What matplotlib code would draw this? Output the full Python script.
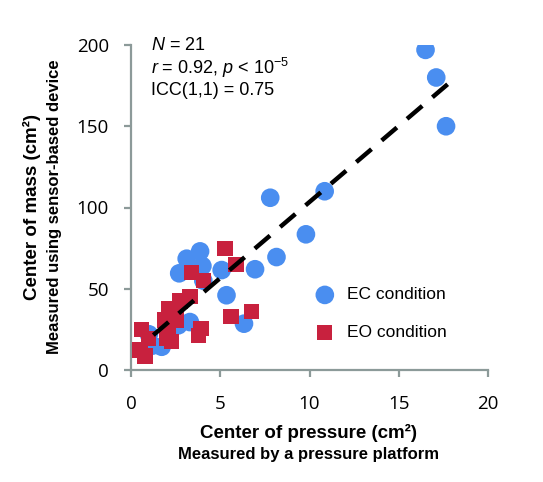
import numpy as np
import matplotlib
matplotlib.use('Agg')
import matplotlib.pyplot as plt

plt.rcParams['mathtext.fontset'] = 'custom'
plt.rcParams['mathtext.rm'] = 'Liberation Sans'
plt.rcParams['mathtext.it'] = 'Liberation Sans:italic'

# EC condition (eyes closed)
ec_x = [16.5, 17.1, 17.65, 7.8, 10.85, 9.8, 8.15, 6.95, 5.08, 5.35, 6.33,
        3.12, 3.87, 4.0, 2.7, 3.3, 1.72, 2.65, 1.0, 4.05, 1.2]
ec_y = [197, 180, 150, 106, 110, 83.5, 69.5, 62, 61.5, 46, 28.5,
        68.5, 73, 64, 59.5, 29.5, 14.3, 27.5, 22, 55, 15]
# EO condition (eyes open)
eo_x = [5.27, 5.88, 3.4, 4.05, 3.3, 2.75, 2.1, 2.56, 1.9, 0.6, 0.97,
        2.1, 2.28, 3.77, 3.92, 0.5, 0.78, 5.6, 6.76, 2.37, 2.0]
eo_y = [75, 65, 60, 55, 45, 42.5, 37.5, 30.8, 30.8, 25, 19.5,
        23.6, 17.4, 21, 25.6, 12.3, 8.6, 32.8, 36, 36, 19.7]
fit_x = [1.25, 17.8]
slope, intercept = 9.36, 9.8

fig = plt.figure(figsize=(5.43, 4.82), dpi=100)
ax = fig.add_axes([131/543, 1-370/482, (488-131)/543, (370-45)/482])

blue = '#4a8ef0'
red = '#c8213e'
ax.scatter(ec_x, ec_y, s=180, color=blue, edgecolors='none', label='EC condition', zorder=2)
ax.scatter(eo_x, eo_y, s=120, color=red, marker='s', edgecolors='none', label='EO condition', zorder=3)
fx = np.array(fit_x)
ax.plot(fx, slope*fx + intercept, color='black', lw=3.2, dashes=(4.5, 3), zorder=4)

ax.set_xlim(0, 20)
ax.set_ylim(0, 200)
ax.set_xticks([0, 5, 10, 15, 20])
ax.set_yticks([0, 50, 100, 150, 200])
for s in ['top', 'right']:
    ax.spines[s].set_visible(False)
for s in ['left', 'bottom']:
    ax.spines[s].set_color('#8c9a99')
    ax.spines[s].set_linewidth(1.6)
ax.tick_params(color='#8c9a99', width=1.6, length=5, labelsize=13.5)
ax.tick_params(axis='x', pad=13)
ax.tick_params(axis='y', pad=11)
for lab in ax.get_xticklabels() + ax.get_yticklabels():
    lab.set_family('Open Sans')

ax.text(1.1, 200, '$\\mathit{N}$ = 21', fontsize=13, family='Liberation Sans', va='center')
ax.text(1.1, 185.8, '$\\mathit{r}$ = 0.92, $\\mathit{p}$ < 10$^{-5}$', fontsize=13, family='Liberation Sans', va='center')
ax.text(1.1, 171.7, 'ICC(1,1) = 0.75', fontsize=13, family='Liberation Sans', va='center')

leg = ax.legend(loc='lower left', bbox_to_anchor=(0.47, 0.065), frameon=False,
                prop={'family': 'Liberation Sans', 'size': 12.5},
                labelspacing=1.3, handletextpad=0.3, borderpad=0)

fig.text(309/543, 1-433/482, 'Center of pressure (cm²)', ha='center', va='center',
         fontsize=13.5, fontweight='bold', family='Liberation Sans')
fig.text(309/543, 1-454/482, 'Measured by a pressure platform', ha='center', va='center',
         fontsize=12, fontweight='bold', family='Liberation Sans')
fig.text(32/543, 1-207/482, 'Center of mass (cm²)', ha='center', va='center', rotation=90,
         fontsize=13.5, fontweight='bold', family='Liberation Sans')
fig.text(55/543, 1-207/482, 'Measured using sensor-based device', ha='center', va='center', rotation=90,
         fontsize=12, fontweight='bold', family='Liberation Sans')

fig.savefig('out.png', dpi=100)
